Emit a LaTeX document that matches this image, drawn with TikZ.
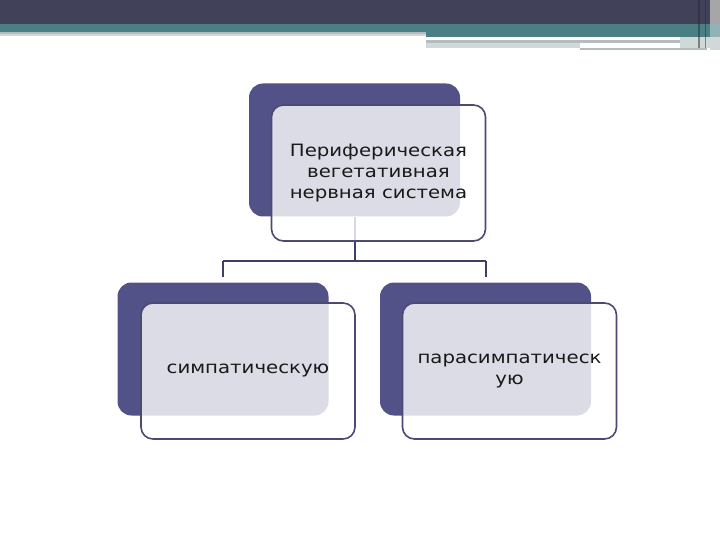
\documentclass[tikz,border=0pt]{standalone}
\usepackage{fontspec}
\setmainfont[FakeStretch=1.16]{DejaVu Sans}
\definecolor{barDark}{HTML}{41425A}
\definecolor{barTeal}{HTML}{4A8084}
\definecolor{boxDark}{HTML}{525288}
\definecolor{boxLine}{HTML}{4A4A72}
\definecolor{linkCol}{HTML}{3E3E66}
\definecolor{greyA}{HTML}{B4BCBE}
\definecolor{greyB}{HTML}{D0D8D8}
\tikzset{
  backbox/.style={fill=boxDark, rounded corners=14pt, minimum width=211pt, minimum height=133pt, inner sep=0pt},
  frontbox/.style={fill=white, fill opacity=0.8, text opacity=1, draw=boxLine, line width=1.6pt, rounded corners=12pt,
     minimum width=214pt, minimum height=136pt, inner sep=0pt, align=center, text=black!90,
     font=\fontsize{17}{21}\selectfont},
  link/.style={draw=linkCol, line width=2pt}
}
\begin{document}
\begin{tikzpicture}[x=1pt,y=-1pt]
\useasboundingbox (0,0) rectangle (720,540);
% top decorative bar
\fill[barDark] (0,0) rectangle (720,24);
\fill[barTeal] (0,24) rectangle (426,32);
\fill[barTeal] (426,24) rectangle (710,37);
\fill[greyB] (0,32) rectangle (426,36);
\fill[greyA] (0,32) rectangle (426,34);
\fill[greyA] (426,40.5) rectangle (680,43);
\fill[greyB] (426,43) rectangle (580,48);
\fill[greyA] (580,48) rectangle (707,50.5);
\fill[greyB] (680,37) rectangle (710,48);
\fill[black!40!barDark, opacity=0.5] (698,0) rectangle (700,48);
\fill[black!40!barDark, opacity=0.5] (705,0) rectangle (706,48);
\fill[gray!70] (710,0) rectangle (720,24);
\fill[barTeal!60!white] (710,24) rectangle (720,37);
\fill[greyB] (710,37) rectangle (720,50);
% coordinates
\coordinate (bus) at (0,261);
% back boxes
\node[backbox] (tb) at (354.5,150) {};
\node[backbox] (lb) at (223,349) {};
\node[backbox] (rb) at (485.5,349) {};
% connectors
\draw[link] (tb.south) -- (tb.south |- bus);
\draw[link] (lb.north |- bus) -- (rb.north |- bus);
\draw[link, shorten >=5pt] (lb.north |- bus) -- (lb.north);
\draw[link, shorten >=5pt] (rb.north |- bus) -- (rb.north);
% front boxes
\node[frontbox] (tf) at (378.5,173) {Периферическая\\вегетативная\\нервная система};
\node[frontbox] (lf) at (248,371) {симпатическую};
\node[frontbox] (rf) at (509.5,371) {парасимпатическ\\ую};
\end{tikzpicture}
\end{document}
